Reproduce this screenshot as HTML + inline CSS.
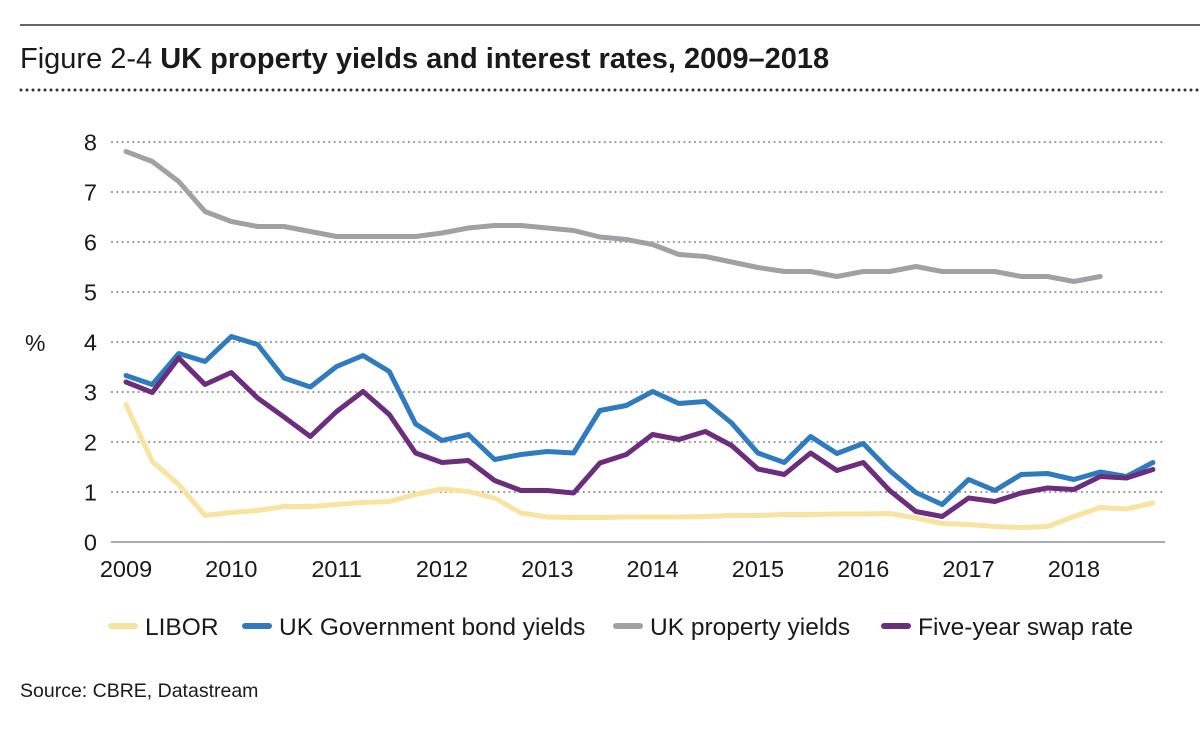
<!DOCTYPE html>
<html><head><meta charset="utf-8">
<style>
body{margin:0;background:#fff;width:1200px;height:726px;overflow:hidden;font-family:"Liberation Sans",Arial,sans-serif;}
svg text{font-family:"Liberation Sans",Arial,sans-serif;fill:#1a1a1a;}
</style></head>
<body>
<svg id="chart" width="1200" height="726" viewBox="0 0 1200 726" xmlns="http://www.w3.org/2000/svg">
<line x1="20" y1="25" x2="1200" y2="25" stroke="#333" stroke-width="1.5"/>
<text x="20" y="68" font-size="29"><tspan>Figure 2-4  </tspan><tspan font-weight="bold">UK property yields and interest rates, 2009–2018</tspan></text>
<line x1="21" y1="90" x2="1200" y2="90" stroke="#333" stroke-width="3" stroke-dasharray="0 6" stroke-linecap="round"/>
<text x="25" y="351" font-size="23">%</text>
<g id="grid"></g><g id="series"></g>
<text x="20" y="697" font-size="19.5">Source: CBRE, Datastream</text>
<g id="legend"></g>
</svg>
<script>
const years=[2009,2010,2011,2012,2013,2014,2015,2016,2017,2018];
const yTicks=[0,1,2,3,4,5,6,7,8];
const libor=[2.75,1.61,1.15,0.53,0.59,0.63,0.71,0.71,0.75,0.79,0.81,0.95,1.06,1.01,0.88,0.58,0.5,0.49,0.49,0.5,0.5,0.5,0.51,0.53,0.53,0.55,0.55,0.56,0.56,0.57,0.48,0.37,0.35,0.31,0.29,0.31,0.51,0.69,0.66,0.78];
const gilts=[3.33,3.15,3.77,3.61,4.11,3.95,3.28,3.1,3.51,3.73,3.41,2.36,2.03,2.15,1.65,1.75,1.81,1.78,2.63,2.73,3.01,2.77,2.81,2.38,1.78,1.59,2.11,1.77,1.97,1.43,0.99,0.75,1.25,1.03,1.35,1.37,1.25,1.40,1.31,1.59];
const property=[7.81,7.61,7.21,6.61,6.41,6.31,6.31,6.21,6.11,6.11,6.11,6.11,6.18,6.28,6.33,6.33,6.28,6.23,6.1,6.05,5.95,5.75,5.71,5.6,5.49,5.41,5.41,5.31,5.41,5.41,5.51,5.41,5.41,5.41,5.31,5.31,5.21,5.31];
const swap=[3.2,2.99,3.68,3.15,3.39,2.88,2.5,2.11,2.61,3.01,2.55,1.78,1.59,1.63,1.23,1.03,1.03,0.98,1.58,1.75,2.15,2.05,2.21,1.93,1.46,1.35,1.78,1.43,1.59,1.03,0.61,0.51,0.88,0.81,0.98,1.08,1.05,1.31,1.28,1.45];
const legendLabels=["LIBOR","UK Government bond yields","UK property yields","Five-year swap rate"];

const NS="http://www.w3.org/2000/svg";
function xq(i){return 126+i*26.33;}
function xYear(y){return xq((y-2009)*4);}
function yv(v){return 542-v*50;}
function mk(tag,attrs,parent){const e=document.createElementNS(NS,tag);for(const k in attrs)e.setAttribute(k,attrs[k]);parent.appendChild(e);return e;}
const grid=document.getElementById('grid');
yTicks.forEach(t=>{
  if(t>0){const l=mk('line',{x1:112,x2:1165,y1:yv(t),y2:yv(t),stroke:'#9a9a9a','stroke-width':2.2,'stroke-dasharray':'0 5.3','stroke-linecap':'round'},grid);
  
  }
  const tx=mk('text',{x:97,y:yv(t)+8.5,'font-size':23.5,'text-anchor':'end'},grid);tx.textContent=t;
  
  
});
const ax=mk('line',{x1:111,x2:1165,y1:542,y2:542,stroke:'#8a9099','stroke-width':1.5},grid);


years.forEach(y=>{const tx=mk('text',{x:xYear(y),y:577,'font-size':23.5,'text-anchor':'middle'},grid);tx.textContent=y;
  
  });
const ser=document.getElementById('series');
const defs=[[property,'#a0a1a5','uk-property-yields-line'],[libor,'#f8e3a0','libor-line'],[gilts,'#2f7bbf','uk-gov-bond-yields-line'],[swap,'#6b2d7c','five-year-swap-line']];
defs.forEach(d=>{const pts=d[0].map((v,i)=>xq(i).toFixed(1)+','+yv(v).toFixed(1)).join(' ');
  const p=mk('polyline',{points:pts,fill:'none',stroke:d[1],'stroke-width':5,'stroke-linejoin':'round','stroke-linecap':'round'},ser);
  
  });
const lg=document.getElementById('legend');
const lcol=['#f8e3a0','#2f7bbf','#a0a1a5','#6b2d7c'];
const lx=[111,245,616,884];
legendLabels.forEach((lab,i)=>{
  const g=mk('g',{},lg);
  
  
  mk('line',{x1:lx[i],x2:lx[i]+24,y1:626,y2:626,stroke:lcol[i],'stroke-width':6,'stroke-linecap':'round'},g);
  const t=mk('text',{x:lx[i]+34,y:635,'font-size':24.5},g);t.textContent=lab;
});
</script>
</body></html>
